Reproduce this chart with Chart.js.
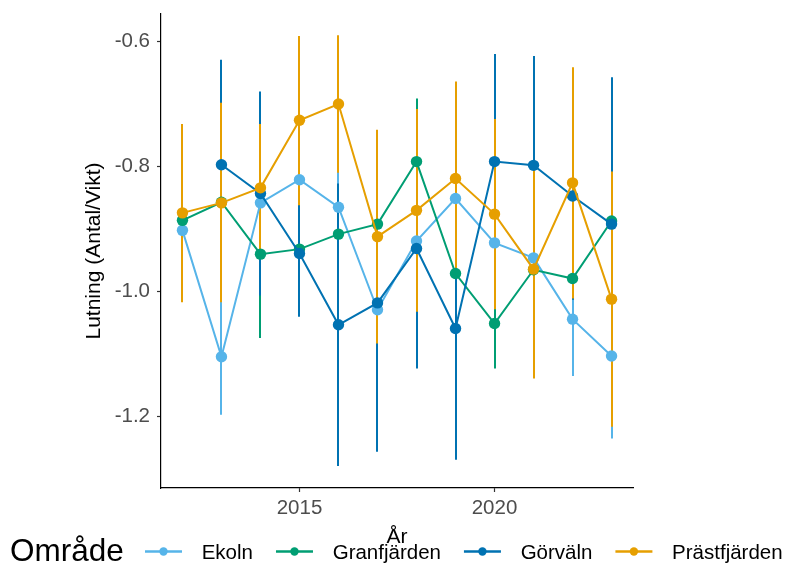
<!DOCTYPE html>
<html>
<head>
<meta charset="utf-8">
<script src="https://cdn.jsdelivr.net/npm/chart.js@4"></script>
<style>
  html, body { margin: 0; padding: 0; background: #ffffff; }
  #wrap { width: 788px; height: 564px; }
</style>
</head>
<body>
<div id="wrap"><canvas id="chart" width="788" height="564"></canvas></div>
<script>
// Years sampled
const years = [2012, 2013, 2014, 2015, 2016, 2017, 2018, 2019, 2020, 2021, 2022, 2023];

// Slope estimates per area
const ekoln        = [-0.902, -1.104, -0.858, -0.821, -0.865, -1.029, -0.919, -0.851, -0.922, -0.946, -1.044, -1.103];
const granfjarden  = [-0.886, -0.857, -0.940, -0.932, -0.908, -0.892, -0.792, -0.971, -1.051, -0.965, -0.979, -0.887];
const gorvaln      = [null,   -0.797, -0.843, -0.939, -1.053, -1.018, -0.931, -1.059, -0.792, -0.798, -0.847, -0.892];
const prastfjarden = [-0.874, -0.858, -0.834, -0.726, -0.700, -0.912, -0.870, -0.819, -0.876, -0.964, -0.826, -1.012];

// Interval bounds (lower / upper) per area
const ekolnLo        = [-1.002, -1.197, -0.958, -0.921, -0.965, -1.129, -1.019, -0.951, -1.022, -1.046, -1.135, -1.235];
const ekolnHi        = [-0.802, -1.011, -0.758, -0.721, -0.765, -0.929, -0.819, -0.751, -0.822, -0.846, -0.953, -0.971];
const granfjardenLo  = [-0.986, -0.957, -1.074, -1.022, -0.978, -0.992, -0.893, -1.071, -1.123, -1.065, -1.009, -0.987];
const granfjardenHi  = [-0.786, -0.757, -0.806, -0.842, -0.838, -0.792, -0.691, -0.871, -0.979, -0.865, -0.949, -0.787];
const gorvalnLo      = [null,   -0.965, -1.006, -1.040, -1.279, -1.256, -1.123, -1.269, -0.964, -0.973, -1.013, -1.127];
const gorvalnHi      = [null,   -0.629, -0.680, -0.838, -0.827, -0.780, -0.739, -0.849, -0.620, -0.623, -0.681, -0.657];
const prastfjardenLo = [-1.017, -1.017, -0.936, -0.862, -0.810, -1.083, -1.032, -0.974, -1.028, -1.139, -1.011, -1.216];
const prastfjardenHi = [-0.732, -0.698, -0.732, -0.591, -0.590, -0.741, -0.708, -0.664, -0.724, -0.790, -0.641, -0.808];

// Tick labels
const xTicks = [2015, 2020];
const yTicks = [-1.2, -1.0, -0.8, -0.6];

const areaNames  = ['Ekoln', 'Granfjärden', 'Görväln', 'Prästfjärden'];
const areaColors = ['#56B4E9', '#009E73', '#0072B2', '#E69F00'];
const FONT = "'Liberation Sans', Arial, sans-serif";

const series = [ekoln, granfjarden, gorvaln, prastfjarden];
const lows   = [ekolnLo, granfjardenLo, gorvalnLo, prastfjardenLo];
const highs  = [ekolnHi, granfjardenHi, gorvalnHi, prastfjardenHi];

function toPoints(vals, lo, hi) {
  const pts = [];
  vals.forEach((v, i) => {
    if (v !== null) pts.push({ x: years[i], y: v, lo: lo[i], hi: hi[i] });
  });
  return pts;
}

const datasets = series.map((vals, k) => ({
  label: areaNames[k],
  data: toPoints(vals, lows[k], highs[k]),
  borderColor: areaColors[k],
  backgroundColor: areaColors[k],
  pointBackgroundColor: areaColors[k],
  pointBorderWidth: 0,
  pointRadius: 5.7,
  borderWidth: 2,
  tension: 0,
  order: series.length - k
}));

// Vertical interval bars, drawn beneath lines and points
const intervalBars = {
  id: 'intervalBars',
  beforeDatasetsDraw(chart) {
    const { ctx, scales: { x, y } } = chart;
    ctx.save();
    ctx.lineWidth = 2;
    ctx.lineCap = 'butt';
    chart.data.datasets.forEach((ds) => {
      ctx.strokeStyle = ds.borderColor;
      ds.data.forEach((p) => {
        if (p.lo == null || p.hi == null) return;
        const px = Math.round(x.getPixelForValue(p.x));
        ctx.beginPath();
        ctx.moveTo(px, y.getPixelForValue(p.lo));
        ctx.lineTo(px, y.getPixelForValue(p.hi));
        ctx.stroke();
      });
    });
    ctx.restore();
  }
};

// Horizontal legend with a title on the left
const areaLegend = {
  id: 'areaLegend',
  afterDraw(chart) {
    const ctx = chart.ctx;
    ctx.save();
    ctx.fillStyle = '#000000';
    ctx.textAlign = 'left';
    ctx.textBaseline = 'alphabetic';
    ctx.font = '31.5px ' + FONT;
    ctx.fillText('Område', 10, 561);
    ctx.font = '20.5px ' + FONT;
    let x0 = 145;
    const keyY = 551.5;
    chart.data.datasets.forEach((ds) => {
      ctx.strokeStyle = ds.borderColor;
      ctx.lineWidth = 2.5;
      ctx.beginPath();
      ctx.moveTo(x0, keyY);
      ctx.lineTo(x0 + 37, keyY);
      ctx.stroke();
      ctx.fillStyle = ds.borderColor;
      ctx.beginPath();
      ctx.arc(x0 + 18.5, keyY, 4.2, 0, Math.PI * 2);
      ctx.fill();
      ctx.fillStyle = '#000000';
      const tx = x0 + 56.7;
      ctx.fillText(ds.label, tx, 559.3);
      x0 = tx + ctx.measureText(ds.label).width + 23;
    });
    ctx.restore();
  }
};

new Chart(document.getElementById('chart'), {
  type: 'line',
  data: { datasets },
  options: {
    responsive: false,
    animation: false,
    devicePixelRatio: 1,
    layout: { padding: { left: 0, top: 14, right: 155, bottom: 0 } },
    plugins: {
      legend: { display: false },
      tooltip: { enabled: false }
    },
    scales: {
      x: {
        type: 'linear',
        min: 2011.45,
        max: 2023.55,
        afterBuildTicks(scale) { scale.ticks = xTicks.map(v => ({ value: v })); },
        afterFit(scale) { scale.height = 76; scale.paddingLeft = 0; scale.paddingRight = 0; },
        ticks: {
          autoSkip: false,
          maxRotation: 0,
          padding: 4,
          color: '#4D4D4D',
          font: { family: FONT, size: 20.5 },
          callback: (v) => String(v)
        },
        grid: { display: true, drawOnChartArea: false, drawTicks: true, tickLength: 4, tickColor: '#333333', tickWidth: 1.2 },
        border: { display: true, color: '#000000', width: 1.2 },
        title: {
          display: true,
          text: 'År',
          color: '#000000',
          font: { family: FONT, size: 21 },
          padding: { top: 0, bottom: 14 }
        }
      },
      y: {
        type: 'linear',
        min: -1.314,
        max: -0.556,
        afterBuildTicks(scale) { scale.ticks = yTicks.map(v => ({ value: v })); },
        afterFit(scale) { scale.width = 161; scale.paddingTop = 0; scale.paddingBottom = 0; },
        ticks: {
          autoSkip: false,
          padding: 7,
          color: '#4D4D4D',
          font: { family: FONT, size: 20.5 },
          callback: (v) => Number(v).toFixed(1)
        },
        grid: { display: true, drawOnChartArea: false, drawTicks: true, tickLength: 4, tickColor: '#333333', tickWidth: 1.2 },
        border: { display: true, color: '#000000', width: 1.2 },
        title: {
          display: true,
          text: 'Lutning (Antal/Vikt)',
          color: '#000000',
          font: { family: FONT, size: 21 },
          padding: { top: 82, bottom: 0 }
        }
      }
    }
  },
  plugins: [intervalBars, areaLegend]
});
</script>
</body>
</html>
